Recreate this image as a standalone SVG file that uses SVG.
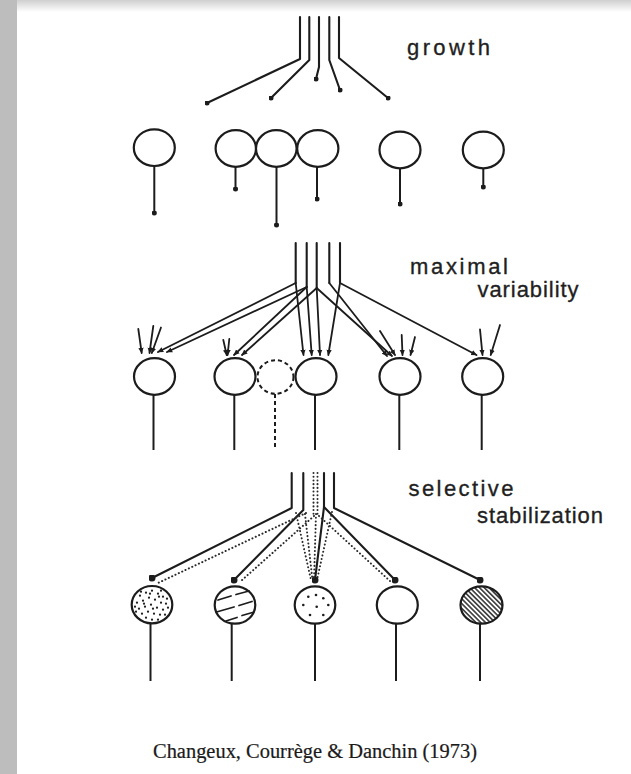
<svg xmlns="http://www.w3.org/2000/svg" width="631" height="774" viewBox="0 0 631 774">
  <defs>
    <style>
      .ln { fill: none; stroke: #1c1c1c; stroke-width: 2.1; stroke-linejoin: round; stroke-linecap: round; }
      .thin { fill: none; stroke: #1c1c1c; stroke-width: 1.8; stroke-linecap: round; }
      .dot { fill: none; stroke: #2a2a2a; stroke-width: 2; stroke-linecap: round; stroke-dasharray: 0.1 3.6; }
      .soma { fill: #fff; stroke: #1c1c1c; stroke-width: 2.2; }
      .hatched { fill: url(#hatch); stroke: #1c1c1c; stroke-width: 2.2; }
      .axon { fill: none; stroke: #1c1c1c; stroke-width: 2; }
      .lost { fill: none; stroke: #1c1c1c; stroke-width: 2; stroke-dasharray: 4 3; }
      .stage { font-family: "Liberation Sans", Arial, sans-serif; font-size: 22px; fill: #1f1f1f; stroke: #1f1f1f; stroke-width: 0.35; }
      .cite { font-family: "Liberation Serif", "Times New Roman", serif; font-size: 20px; fill: #1a1a1a; stroke: #1a1a1a; stroke-width: 0.2; }
      .spk { fill: #1c1c1c; }
    </style>
    <linearGradient id="topShade" x1="0" y1="0" x2="0" y2="1">
      <stop offset="0" stop-color="#cfcfcf"/>
      <stop offset="1" stop-color="#ffffff"/>
    </linearGradient>
    <marker id="knob" viewBox="0 0 6 6" refX="3" refY="3" markerWidth="5" markerHeight="5" markerUnits="userSpaceOnUse">
      <circle cx="3" cy="3" r="3" fill="#1c1c1c"/>
    </marker>
    <marker id="knobL" viewBox="0 0 8 8" refX="4" refY="4" markerWidth="7" markerHeight="7" markerUnits="userSpaceOnUse">
      <circle cx="4" cy="4" r="4" fill="#1c1c1c"/>
    </marker>
    <marker id="tip" viewBox="0 0 8 8" refX="7" refY="4" markerWidth="6" markerHeight="6" orient="auto" markerUnits="userSpaceOnUse">
      <path d="M0,0.5 L8,4 L0,7.5 z" fill="#1c1c1c"/>
    </marker>
    <pattern id="hatch" width="3.4" height="3.4" patternUnits="userSpaceOnUse" patternTransform="rotate(45)">
      <rect width="3.4" height="3.4" fill="#ffffff"/>
      <line x1="0" y1="1.7" x2="3.4" y2="1.7" stroke="#2a2a2a" stroke-width="1.5"/>
    </pattern>
  </defs>

  <!-- page frame -->
  <rect x="0" y="0" width="631" height="774" fill="#ffffff"/>
  <rect x="17" y="0" width="614" height="12" fill="url(#topShade)"/>
  <rect x="0" y="0" width="17" height="774" fill="#bdbdbd"/>

  <!-- stage labels -->
  <g id="labels">
    <text class="stage" x="407" y="55" textLength="83" lengthAdjust="spacing">growth</text>
    <text class="stage" x="410" y="274" textLength="98" lengthAdjust="spacing">maximal</text>
    <text class="stage" x="477.5" y="297" textLength="101" lengthAdjust="spacing">variability</text>
    <text class="stage" x="408.5" y="496" textLength="105" lengthAdjust="spacing">selective</text>
    <text class="stage" x="477" y="523" textLength="126" lengthAdjust="spacing">stabilization</text>
    <text class="cite" x="153" y="758" textLength="324" lengthAdjust="spacingAndGlyphs">Changeux, Courrège &amp; Danchin (1973)</text>
  </g>

  <!-- connectors: afferent fibres of the three stages -->
  <g id="connectors">
    <!-- growth -->
    <g id="fibres-growth">
      <path class="ln" d="M300,17 V59 L207,103" marker-end="url(#knob)"/>
      <path class="ln" d="M309.3,17 V60 L271,98" marker-end="url(#knob)"/>
      <path class="ln" d="M319,17 V67 L316,79" marker-end="url(#knob)"/>
      <path class="ln" d="M329.3,17 V60 L340,90" marker-end="url(#knob)"/>
      <path class="ln" d="M339,17 V58 L388,98" marker-end="url(#knob)"/>
    </g>

    <!-- maximal variability -->
    <g id="fibres-variability">
      <path class="ln" d="M295.7,243 V283"/>
      <path class="ln" d="M306.7,243 V287"/>
      <path class="ln" d="M316.7,243 V288"/>
      <path class="ln" d="M329.3,243 V283"/>
      <path class="ln" d="M340,243 V283"/>
      <path class="thin" d="M295.7,283 L158,352" marker-end="url(#tip)"/>
      <path class="thin" d="M295.7,283 L303.5,355" marker-end="url(#tip)"/>
      <path class="thin" d="M306.7,287 L167,352" marker-end="url(#tip)"/>
      <path class="thin" d="M306.7,287 L234,355" marker-end="url(#tip)"/>
      <path class="thin" d="M306.7,287 L311.7,355" marker-end="url(#tip)"/>
      <path class="thin" d="M316.7,288 L242,355" marker-end="url(#tip)"/>
      <path class="thin" d="M316.7,288 L320,355" marker-end="url(#tip)"/>
      <path class="thin" d="M316.7,288 L392,356" marker-end="url(#tip)"/>
      <path class="thin" d="M329.3,283 L387,356" marker-end="url(#tip)"/>
      <path class="thin" d="M340,283 L328.3,355" marker-end="url(#tip)"/>
      <path class="thin" d="M340,283 L476.5,355" marker-end="url(#tip)"/>
      <!-- short afferents from outside the bundle -->
      <path class="thin" d="M138.3,329 L141.7,353" marker-end="url(#tip)"/>
      <path class="thin" d="M153.3,326 L149.5,353" marker-end="url(#tip)"/>
      <path class="thin" d="M161,327.5 L151.8,353" marker-end="url(#tip)"/>
      <path class="thin" d="M223.3,340 L226.7,355" marker-end="url(#tip)"/>
      <path class="thin" d="M229.3,339 L227.6,355" marker-end="url(#tip)"/>
      <path class="thin" d="M380,331 L395,355" marker-end="url(#tip)"/>
      <path class="thin" d="M401.7,335 L402.5,355" marker-end="url(#tip)"/>
      <path class="thin" d="M415,337 L410.5,355" marker-end="url(#tip)"/>
      <path class="thin" d="M480,329.3 L482.5,355" marker-end="url(#tip)"/>
      <path class="thin" d="M500,325 L490.7,355" marker-end="url(#tip)"/>
    </g>

    <!-- selective stabilization -->
    <g id="fibres-stabilization">
      <path class="ln" d="M291.7,473 V508 L152,578" marker-end="url(#knobL)"/>
      <path class="ln" d="M303.3,473 V510 L234,580" marker-end="url(#knobL)"/>
      <path class="ln" d="M324,473 V507 L315,580" marker-end="url(#knobL)"/>
      <path class="ln" d="M324,507 L395,580" marker-end="url(#knobL)"/>
      <path class="ln" d="M334,473 V508 L480,580" marker-end="url(#knobL)"/>
      <!-- regressed contacts -->
      <path class="dot" d="M313.5,473 V514"/>
      <path class="dot" d="M317.5,473 V514"/>
      <path class="dot" d="M306,513 L158,583"/>
      <path class="dot" d="M314,516 L241,581"/>
      <path class="dot" d="M296,513 L311,580"/>
      <path class="dot" d="M305,514 L312.5,580"/>
      <path class="dot" d="M316,514 L314,580"/>
      <path class="dot" d="M332,512 L317,580"/>
      <path class="dot" d="M319,516 L390,581"/>
    </g>
  </g>

  <!-- growth stage neurons -->
  <g id="g1"><path class="axon" d="M154.3,166 V213" marker-end="url(#knob)"/><ellipse class="soma" cx="154.3" cy="147.7" rx="20.5" ry="18.3"/></g>
  <g id="g2"><path class="axon" d="M235.5,167 V189" marker-end="url(#knob)"/><ellipse class="soma" cx="235.8" cy="148.5" rx="20.2" ry="18.3"/></g>
  <g id="g3"><path class="axon" d="M276.5,167 V225" marker-end="url(#knob)"/><ellipse class="soma" cx="276.3" cy="148.5" rx="20.3" ry="18.3"/></g>
  <g id="g4"><path class="axon" d="M317,167 V199" marker-end="url(#knob)"/><ellipse class="soma" cx="317.8" cy="148.5" rx="20.6" ry="18.3"/></g>
  <g id="g5"><path class="axon" d="M400,168 V204" marker-end="url(#knob)"/><ellipse class="soma" cx="400" cy="150" rx="20.5" ry="18.3"/></g>
  <g id="g6"><path class="axon" d="M483.3,168 V187" marker-end="url(#knob)"/><ellipse class="soma" cx="483.3" cy="150" rx="20.5" ry="18.3"/></g>

  <!-- maximal variability neurons -->
  <g id="v1"><path class="axon" d="M153.5,394 V450"/><ellipse class="soma" cx="154.5" cy="376.5" rx="20.5" ry="18.3"/></g>
  <g id="v2"><path class="axon" d="M234.3,394 V450"/><ellipse class="soma" cx="235" cy="376.5" rx="20.5" ry="18.3"/></g>
  <g id="v-lost"><path class="lost" d="M275,394 V450" stroke-dasharray="5 4"/><ellipse class="lost" cx="275.5" cy="377" rx="18" ry="16.8"/></g>
  <g id="v3"><path class="axon" d="M315,394 V450"/><ellipse class="soma" cx="316" cy="376.5" rx="20.5" ry="18.3"/></g>
  <g id="v4"><path class="axon" d="M399.3,394 V450"/><ellipse class="soma" cx="400" cy="376.5" rx="20.5" ry="18.3"/></g>
  <g id="v5"><path class="axon" d="M481.7,394 V450"/><ellipse class="soma" cx="482.7" cy="376.5" rx="20.5" ry="18.3"/></g>

  <!-- selective stabilization neurons -->
  <g id="s1">
    <path class="axon" d="M150.5,623 V681"/>
    <ellipse class="soma" cx="152" cy="604.7" rx="20.3" ry="18.7"/>
    <g class="spk">
      <circle cx="140" cy="595.7" r="1.1"/><circle cx="146" cy="592.7" r="1.1"/><circle cx="152" cy="590.7" r="1.1"/><circle cx="158" cy="593.7" r="1.1"/>
      <circle cx="163" cy="596.7" r="1.1"/><circle cx="137" cy="602.7" r="1.1"/><circle cx="143" cy="600.7" r="1.1"/><circle cx="149" cy="597.7" r="1.1"/>
      <circle cx="155" cy="599.7" r="1.1"/><circle cx="161" cy="602.7" r="1.1"/><circle cx="166" cy="603.7" r="1.1"/><circle cx="139" cy="608.7" r="1.1"/>
      <circle cx="145" cy="606.7" r="1.1"/><circle cx="151" cy="604.7" r="1.1"/><circle cx="157" cy="607.7" r="1.1"/><circle cx="163" cy="609.7" r="1.1"/>
      <circle cx="142" cy="613.7" r="1.1"/><circle cx="148" cy="611.7" r="1.1"/><circle cx="154" cy="613.7" r="1.1"/><circle cx="160" cy="614.7" r="1.1"/>
      <circle cx="165" cy="614.7" r="1.1"/><circle cx="146" cy="617.7" r="1.1"/><circle cx="152" cy="619.7" r="1.1"/><circle cx="158" cy="619.7" r="1.1"/>
      <circle cx="136" cy="611.7" r="1.1"/><circle cx="141" cy="591.7" r="1.1"/><circle cx="161" cy="590.7" r="1.1"/><circle cx="167" cy="598.7" r="1.1"/>
      <circle cx="135" cy="606.7" r="1.1"/><circle cx="168" cy="607.7" r="1.1"/><circle cx="144" cy="603.7" r="1.1"/><circle cx="153" cy="608.7" r="1.1"/>
      <circle cx="159" cy="596.7" r="1.1"/><circle cx="150" cy="593.7" r="1.1"/>
    </g>
  </g>
  <g id="s2">
    <path class="axon" d="M231.7,623 V681"/>
    <ellipse class="soma" cx="235" cy="605" rx="20.3" ry="18.7"/>
    <path class="thin" d="M218,600 L231,596 M236,594.5 L249,591 M216.5,612 L234,607 M239,605.5 L252,601.5 M226,621 L237,617.5 M242,615.5 L252.5,612.5" stroke-width="1.5"/>
  </g>
  <g id="s3">
    <path class="axon" d="M315,623 V681"/>
    <ellipse class="soma" cx="315" cy="605" rx="20.3" ry="18.7"/>
    <g class="spk">
      <circle cx="308.3" cy="596.7" r="1.3"/><circle cx="316" cy="595" r="1.3"/><circle cx="323.3" cy="598.3" r="1.3"/>
      <circle cx="303.3" cy="605" r="1.3"/><circle cx="316.7" cy="606.7" r="1.3"/><circle cx="328.3" cy="605" r="1.3"/>
      <circle cx="310" cy="615" r="1.3"/><circle cx="323.3" cy="615" r="1.3"/>
    </g>
  </g>
  <g id="s4"><path class="axon" d="M396,623 V681"/><ellipse class="soma" cx="397.3" cy="605" rx="20.5" ry="18.7"/></g>
  <g id="s5"><path class="axon" d="M480,623 V681"/><ellipse class="hatched" cx="481.5" cy="605" rx="21" ry="18.7"/></g>
</svg>
